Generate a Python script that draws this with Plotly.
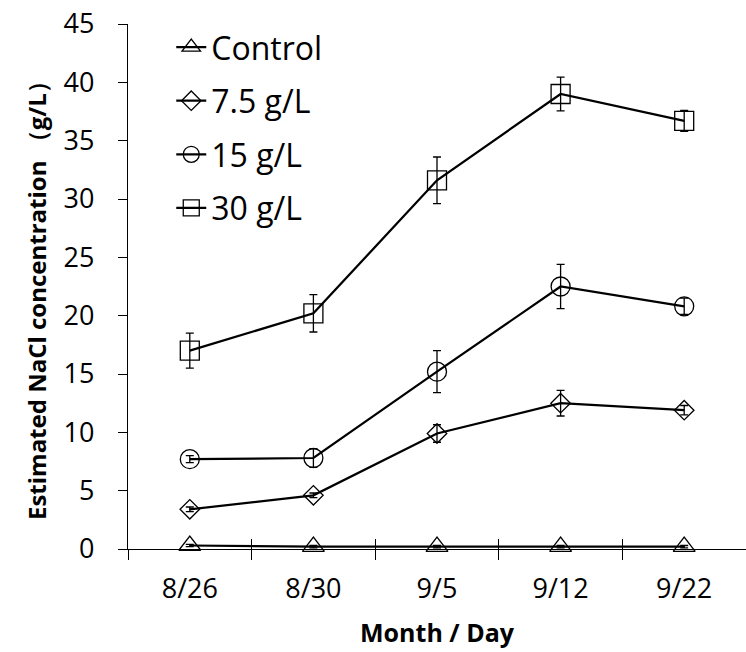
import plotly.graph_objects as go

# Sampling dates (month/day)
dates = ["8/26", "8/30", "9/5", "9/12", "9/22"]

# Estimated NaCl concentration (g/L) per treatment, with standard errors
control = [0.3, 0.2, 0.2, 0.2, 0.2]
control_err = [0.1, 0.1, 0.1, 0.1, 0.1]

salt_7_5 = [3.4, 4.6, 9.9, 12.5, 11.9]
salt_7_5_err = [0.2, 0.2, 0.75, 1.1, 0.4]

salt_15 = [7.7, 7.8, 15.2, 22.5, 20.8]
salt_15_err = [0.3, 0.8, 1.8, 1.9, 0.7]

salt_30 = [17.0, 20.2, 31.6, 39.0, 36.7]
salt_30_err = [1.5, 1.6, 2.0, 1.45, 0.9]

series_names = ["Control", "7.5 g/L", "15 g/L", "30 g/L"]
y_ticks = [0, 5, 10, 15, 20, 25, 30, 35, 40, 45]

FONT = "Open Sans"
INK = "black"

series = [
    (series_names[0], control, control_err, "triangle-up-open", 19),
    (series_names[1], salt_7_5, salt_7_5_err, "diamond-open", 15),
    (series_names[2], salt_15, salt_15_err, "circle-open", 19),
    (series_names[3], salt_30, salt_30_err, "square-open", 19),
]

fig = go.Figure()
for name, vals, err, symbol, size in series:
    fig.add_trace(go.Scatter(
        x=dates, y=vals, name=name, legendgroup=name,
        mode="lines+markers", cliponaxis=False,
        line=dict(color=INK, width=2.25),
        marker=dict(symbol=symbol, size=size, color=INK,
                    line=dict(color=INK, width=1.3)),
        error_y=dict(type="data", array=err, visible=True,
                     color=INK, thickness=1.3, width=4),
    ))

# Category boundaries, used for the short tick marks above the axis line
boundaries = [i - 0.5 for i in range(len(dates) + 1)]

fig.update_layout(
    width=746, height=652,
    margin=dict(l=128, r=0, t=24, b=103),
    paper_bgcolor="white", plot_bgcolor="white",
    font=dict(family=FONT, color=INK),
    showlegend=True,
    legend=dict(
        x=0.07, y=1.008, xanchor="left", yanchor="top",
        font=dict(family=FONT, size=32, color=INK),
        bgcolor="rgba(0,0,0,0)", tracegroupgap=9,
        traceorder="grouped",
    ),
    xaxis=dict(
        type="category", range=[-0.5, len(dates) - 0.5],
        showline=True, linecolor=INK, linewidth=1.3,
        ticks="outside", tickson="boundaries", ticklen=10,
        tickwidth=1.3, tickcolor=INK,
        tickfont=dict(family=FONT, size=27, color=INK),
        ticklabelstandoff=15,
        showgrid=False, zeroline=False,
        title=dict(text="<b>Month / Day</b>",
                   font=dict(family=FONT, size=25, color=INK),
                   standoff=19),
    ),
    xaxis2=dict(
        overlaying="x", anchor="y", side="bottom",
        range=[-0.5, len(dates) - 0.5],
        tickmode="array", tickvals=boundaries,
        ticks="inside", ticklen=10, tickwidth=1.3, tickcolor=INK,
        showticklabels=False, showline=False,
        showgrid=False, zeroline=False,
    ),
    yaxis=dict(
        range=[0, 45], tickmode="array", tickvals=y_ticks,
        showline=True, linecolor=INK, linewidth=1.3,
        ticks="outside", ticklen=9, tickwidth=1.3, tickcolor=INK,
        tickfont=dict(family=FONT, size=27, color=INK),
        ticklabelstandoff=18,
        showgrid=False, zeroline=False,
    ),
    annotations=[dict(
        text="<b>Estimated NaCl concentration （g/L）</b>",
        textangle=-90, xref="paper", yref="paper",
        x=-0.147, y=0.484, xanchor="center", yanchor="middle",
        showarrow=False,
        font=dict(family=FONT, size=24, color=INK),
    )],
)

# Invisible helper trace so the secondary x-axis is drawn
fig.add_trace(go.Scatter(x=[None], y=[None], xaxis="x2", showlegend=False,
                         hoverinfo="skip"))

fig.write_html("out.html")
